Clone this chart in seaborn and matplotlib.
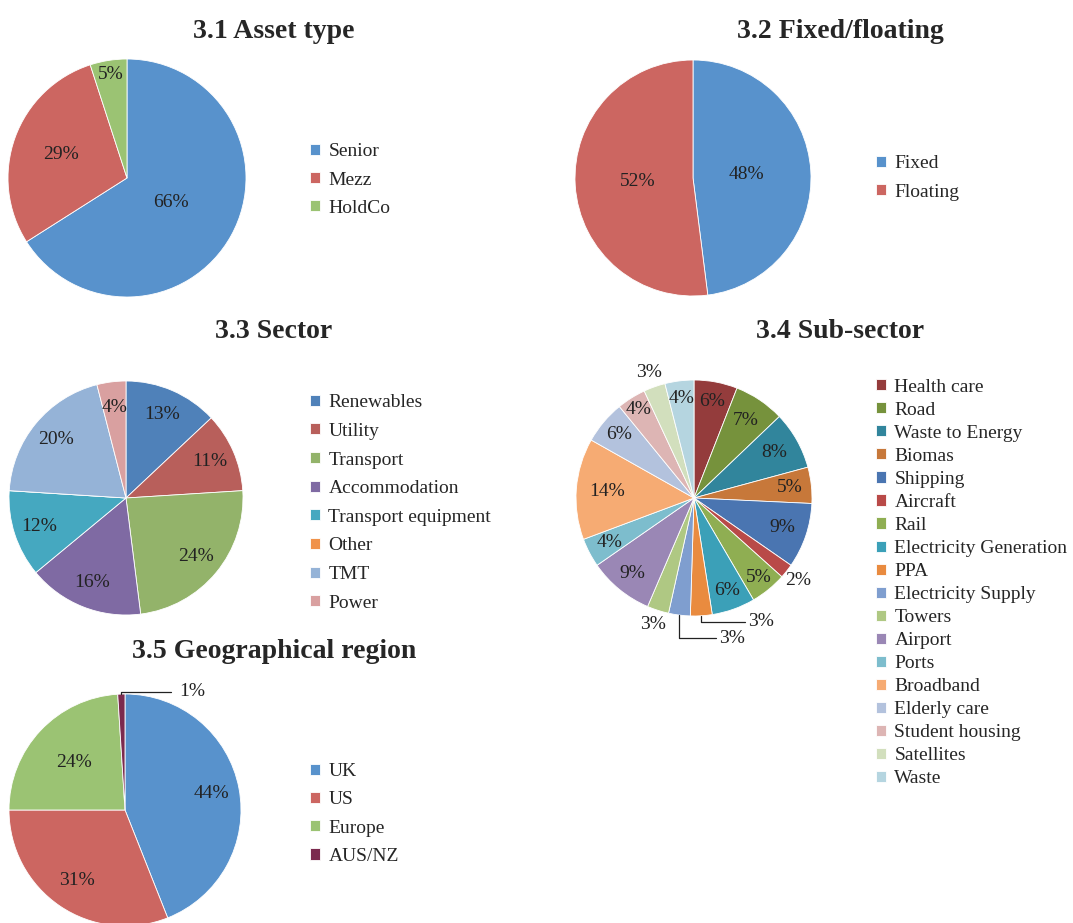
import numpy as np
import seaborn as sns
import matplotlib.pyplot as plt

# data
asset_labels = ['Senior', 'Mezz', 'HoldCo']
asset_values = [66, 29, 5]

rate_labels = ['Fixed', 'Floating']
rate_values = [48, 52]

sector_labels = ['Renewables', 'Utility', 'Transport', 'Accommodation',
                 'Transport equipment', 'Other', 'TMT', 'Power']
sector_values = [13, 11, 24, 16, 12, 0, 20, 4]

sub_labels = ['Health care', 'Road', 'Waste to Energy', 'Biomas', 'Shipping',
              'Aircraft', 'Rail', 'Electricity Generation', 'PPA',
              'Electricity Supply', 'Towers', 'Airport', 'Ports', 'Broadband',
              'Elderly care', 'Student housing', 'Satellites', 'Waste']
sub_values = [6, 7, 8, 5, 9, 2, 5, 6, 3, 3, 3, 9, 4, 14, 6, 4, 3, 4]

geo_labels = ['UK', 'US', 'Europe', 'AUS/NZ']
geo_values = [44, 31, 24, 1]

# colours
asset_colors = ['#5892cc', '#cc6661', '#9bc373']
rate_colors = ['#5892cc', '#cc6661']
sector_colors = ['#4f81b9', '#b85f5b', '#93b36a', '#7f6aa3', '#45a8c0',
                 '#f0924a', '#95b3d7', '#d9a0a0']
sub_colors = ['#943c3c', '#76923c', '#31859c', '#c7783a', '#4a75b1', '#b94a48',
              '#8fae52', '#3ba0b8', '#e98b3f', '#7f9ecf', '#afc883', '#9a87b5',
              '#7dbdcd', '#f6ab73', '#b3c2dd', '#ddb5b4', '#d2dfbd', '#b5d5e0']
geo_colors = ['#5892cc', '#cc6661', '#9bc373', '#7b2a4e']

sns.set_theme(style='white')
plt.rcParams['font.family'] = ['Liberation Serif', 'DejaVu Serif']

W, H = 1073, 923
fig = plt.figure(figsize=(W / 100, H / 100), dpi=100)
FS = 14      # pie labels
LFS = 14     # legend text


def draw_pie(cx, cy, r, values, colors, radii):
    ax = fig.add_axes([(cx - r) / W, 1 - (cy + r) / H, 2 * r / W, 2 * r / H])
    wedges, _ = ax.pie(values, colors=colors, startangle=90, counterclock=False,
                       wedgeprops=dict(edgecolor='white', linewidth=0.6))
    ax.set_xlim(-1, 1)
    ax.set_ylim(-1, 1)
    ax.set_aspect('equal')
    ax.axis('off')
    for w, v, rad in zip(wedges, values, radii):
        if v == 0 or rad is None:
            continue
        ang = np.deg2rad((w.theta1 + w.theta2) / 2)
        ax.text(rad * np.cos(ang), rad * np.sin(ang), f'{v}%', ha='center',
                va='center', fontsize=FS, color='#222222')
    return ax, wedges


def leader(ax, w, v, y1, x1, tx):
    ang = np.deg2rad((w.theta1 + w.theta2) / 2)
    x0, y0 = np.cos(ang), np.sin(ang)
    ax.plot([x0, x0, x1], [y0, y1, y1], color='#222222', lw=0.9, clip_on=False)
    ax.text(tx, y1, f'{v}%', ha='left', va='center', fontsize=FS, color='#222222')


def title(x, y, s):
    fig.text(x / W, 1 - y / H, s, ha='center', va='center', fontsize=20,
             fontweight='bold')


def legend(wedges, labels, x, y, spacing):
    fig.legend(wedges, labels, loc='center left',
               bbox_to_anchor=(x / W, 1 - y / H), frameon=False, fontsize=LFS,
               handlelength=0.5, handleheight=0.5, handletextpad=0.45,
               labelspacing=spacing, borderpad=0, borderaxespad=0)


# 3.1
ax, wd = draw_pie(127, 178, 119, asset_values, asset_colors, [0.42, 0.59, 0.88])
title(274, 31, '3.1 Asset type')
legend(wd, asset_labels, 310, 180, 0.58)

# 3.2
ax, wd = draw_pie(693, 178, 118, rate_values, rate_colors, [0.45, 0.47])
title(840, 31, '3.2 Fixed/floating')
legend(wd, rate_labels, 876, 178, 0.58)

# 3.3
ax, wd = draw_pie(126, 498, 117, sector_values, sector_colors, [0.78] * 8)
title(274, 332, '3.3 Sector')
legend(wd, sector_labels, 310, 503, 0.6)

# 3.4
sub_radii = [0.83, 0.79, 0.78, 0.82, 0.79, 1.13, 0.87, 0.83, None, None,
             1.13, 0.83, 0.81, 0.74, 0.83, 0.89, 1.13, 0.85]
ax, wd = draw_pie(694, 498, 118, sub_values, sub_colors, sub_radii)
leader(ax, wd[8], sub_values[8], -1.05, 0.43, 0.46)
leader(ax, wd[9], sub_values[9], -1.19, 0.19, 0.21)
title(840, 332, '3.4 Sub-sector')
legend(wd, sub_labels, 876, 583, 0.31)

# 3.5
ax, wd = draw_pie(125, 810, 116, geo_values, geo_colors, [0.76, 0.73, 0.6, None])
leader(ax, wd[3], geo_values[3], 1.02, 0.4, 0.47)
title(274, 652, '3.5 Geographical region')
legend(wd, geo_labels, 310, 814, 0.58)

fig.savefig('out.png', dpi=100)
